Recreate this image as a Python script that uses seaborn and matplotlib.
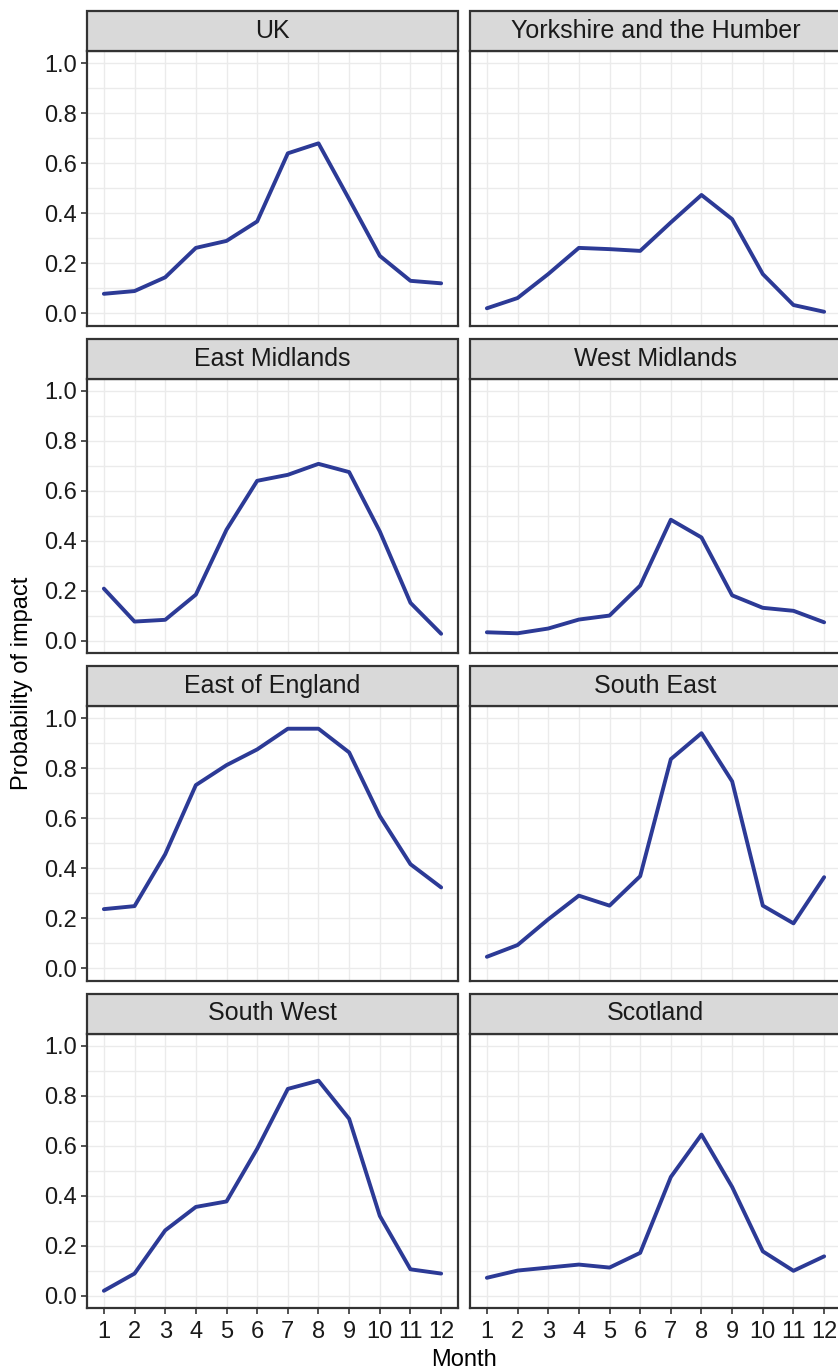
import numpy as np
import pandas as pd
import matplotlib
matplotlib.use("Agg")
import matplotlib.pyplot as plt
from matplotlib.patches import Rectangle
import seaborn as sns

# Monthly probability of impact by region
months = list(range(1, 13))
regions = ["UK", "Yorkshire and the Humber", "East Midlands", "West Midlands",
           "East of England", "South East", "South West", "Scotland"]

uk = [0.077, 0.088, 0.143, 0.261, 0.289, 0.367, 0.640, 0.680, 0.456, 0.229, 0.129, 0.119]
yorkshire = [0.019, 0.060, 0.156, 0.261, 0.256, 0.249, 0.363, 0.473, 0.376, 0.156, 0.032, 0.005]
east_midlands = [0.208, 0.076, 0.083, 0.184, 0.444, 0.640, 0.664, 0.708, 0.675, 0.437, 0.151, 0.027]
west_midlands = [0.033, 0.029, 0.048, 0.084, 0.100, 0.220, 0.484, 0.413, 0.181, 0.131, 0.119, 0.073]
east_of_england = [0.236, 0.248, 0.456, 0.733, 0.813, 0.876, 0.959, 0.959, 0.864, 0.609, 0.416, 0.323]
south_east = [0.045, 0.092, 0.195, 0.290, 0.250, 0.368, 0.837, 0.941, 0.748, 0.250, 0.179, 0.364]
south_west = [0.019, 0.088, 0.261, 0.355, 0.377, 0.588, 0.828, 0.861, 0.708, 0.319, 0.105, 0.088]
scotland = [0.071, 0.100, 0.112, 0.124, 0.112, 0.171, 0.475, 0.645, 0.435, 0.177, 0.099, 0.157]

series = [uk, yorkshire, east_midlands, west_midlands,
          east_of_england, south_east, south_west, scotland]

df = pd.DataFrame({
    "Region": np.repeat(regions, len(months)),
    "Month": months * len(regions),
    "Probability": np.concatenate(series),
})
df["Region"] = pd.Categorical(df["Region"], categories=regions, ordered=True)

sns.set_theme(style="white")
plt.rcParams["font.family"] = ["Liberation Sans", "DejaVu Sans"]

LINE = "#2C3A96"
DARK = "#333333"
GRID = "#EBEBEB"
TEXT = "#1A1A1A"

g = sns.relplot(data=df, x="Month", y="Probability", col="Region", col_wrap=2,
                kind="line", color=LINE, linewidth=2.8, col_order=regions,
                facet_kws=dict(sharex=True, sharey=True))

W, H = 838, 1371
fig = g.figure
fig.set_size_inches(W / 100, H / 100)
fig.set_dpi(100)
g.set_titles("")
g.set_axis_labels("", "")

col_x = [87, 470]
panel_w = 371
row_top = [51, 378.5, 706, 1033.5]
panel_h = 274.5
strip_h = 40

for i, ax in enumerate(g.axes.flat):
    r, c = divmod(i, 2)
    left = col_x[c] / W
    bottom = 1 - (row_top[r] + panel_h) / H
    ax.set_position([left, bottom, panel_w / W, panel_h / H])

    ax.set_xlim(0.45, 12.55)
    ax.set_ylim(-0.05, 1.05)
    ax.set_xticks(months)
    ax.set_yticks([0.0, 0.2, 0.4, 0.6, 0.8, 1.0])
    ax.set_yticks(np.arange(0.1, 1.0, 0.2), minor=True)
    ax.grid(True, which="major", color=GRID, linewidth=1.0)
    ax.grid(True, which="minor", axis="y", color=GRID, linewidth=1.0)
    ax.set_axisbelow(True)
    for s in ax.spines.values():
        s.set_visible(True)
        s.set_color(DARK)
        s.set_linewidth(1.6)

    show_y = (c == 0)
    show_x = (r == 3)
    ax.tick_params(axis="y", which="major", left=show_y, labelleft=show_y,
                   length=4, width=1.2, color=DARK, pad=3.5,
                   labelsize=17, labelcolor=TEXT)
    ax.tick_params(axis="y", which="minor", left=False)
    ax.tick_params(axis="x", which="major", bottom=show_x, labelbottom=show_x,
                   length=4, width=1.2, color=DARK, pad=5,
                   labelsize=17, labelcolor=TEXT)
    if show_y:
        ax.set_yticklabels(["0.0", "0.2", "0.4", "0.6", "0.8", "1.0"])
    if show_x:
        ax.set_xticklabels([str(m) for m in months])

    # facet strip
    sh = strip_h / panel_h
    ax.add_patch(Rectangle((0, 1), 1, sh, transform=ax.transAxes,
                           facecolor="#D9D9D9", edgecolor=DARK, linewidth=1.6,
                           clip_on=False, zorder=5))
    ax.text(0.5, 1 + sh / 2, regions[i], transform=ax.transAxes,
            ha="center", va="center", fontsize=18, color=TEXT, zorder=6)

fig.text((87 + 841) / 2 / W, 1 - 1360 / H, "Month", ha="center", va="center",
         fontsize=17, color="black")
fig.text(22 / W, 1 - 683 / H, "Probability of impact", ha="center", va="center",
         rotation=90, fontsize=17, color="black")

fig.savefig("out.png", dpi=100, facecolor="white")
